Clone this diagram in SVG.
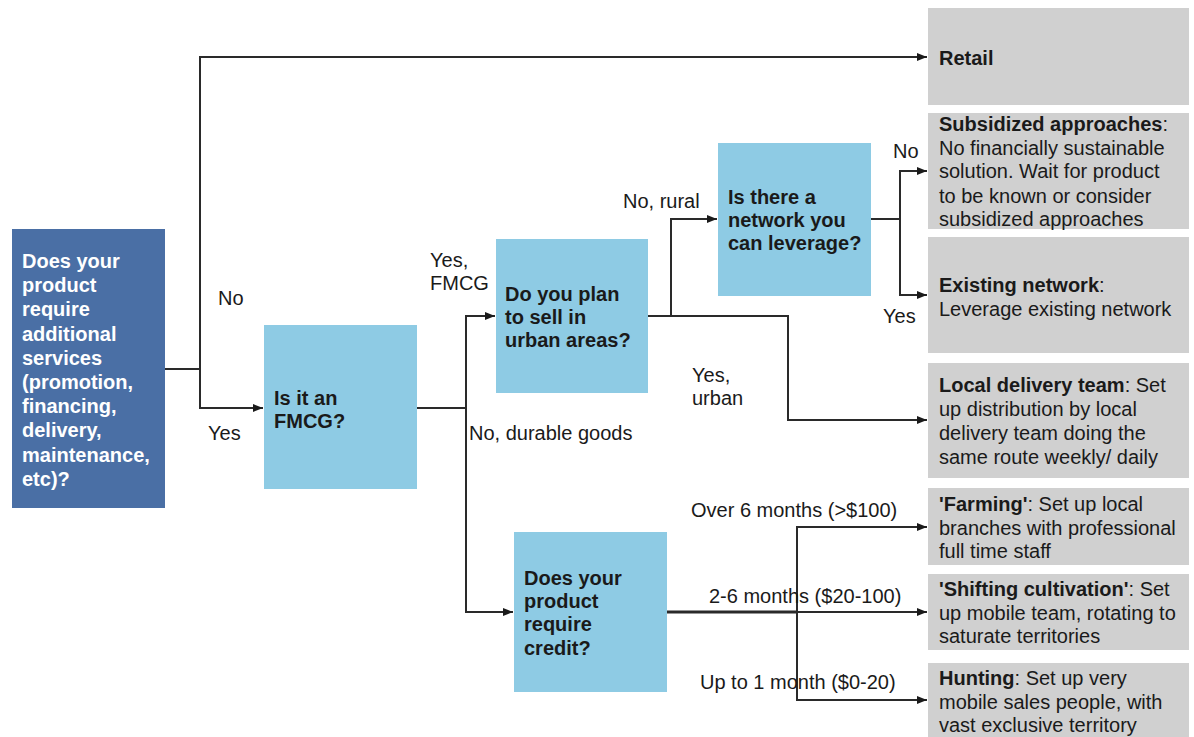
<svg xmlns="http://www.w3.org/2000/svg" width="1194" height="737" viewBox="0 0 1194 737">
<style>
text{font-family:"Liberation Sans",Arial,sans-serif;font-size:20px;fill:#1a1a1a}
.b{font-weight:bold}
.w{fill:#ffffff;font-weight:bold}
.main{fill:#4a6fa5}
.q{fill:#8ecbe4}
.o{fill:#d0d0d0}
.c{fill:none;stroke:#2a2a2a;stroke-width:2}
</style>
<defs>
<marker id="ah" viewBox="0 0 10 10" refX="10" refY="5" markerWidth="10" markerHeight="10" markerUnits="userSpaceOnUse" orient="auto">
<path d="M0,1 L10,5 L0,9 Z" fill="#1a1a1a"/>
</marker>
</defs>
<g id="connectors">
<path class="c" d="M165,369 H200"/>
<path class="c" d="M200,408 V57 H927" marker-end="url(#ah)"/>
<path class="c" d="M200,369 V408 H263" marker-end="url(#ah)"/>
<path class="c" d="M417,408 H466"/>
<path class="c" d="M466,408 V316 H495" marker-end="url(#ah)"/>
<path class="c" d="M466,408 V612 H513" marker-end="url(#ah)"/>
<path class="c" d="M648,316 H788 V420 H927" marker-end="url(#ah)"/>
<path class="c" d="M671,316 V219 H717" marker-end="url(#ah)"/>
<path class="c" d="M871,219 H900"/>
<path class="c" d="M900,219 V171 H927" marker-end="url(#ah)"/>
<path class="c" d="M900,219 V295 H927" marker-end="url(#ah)"/>
<path class="c" d="M667,612 H797" style="stroke-width:3"/>
<path class="c" d="M797,612 H927" marker-end="url(#ah)"/>
<path class="c" d="M797,612 V527 H927" marker-end="url(#ah)"/>
<path class="c" d="M797,612 V700 H927" marker-end="url(#ah)"/>
<text x="218" y="305">No</text>
<text x="208" y="440">Yes</text>
<text x="430" y="267">Yes,</text>
<text x="430" y="290">FMCG</text>
<text x="623" y="208">No, rural</text>
<text x="692" y="382">Yes,</text>
<text x="692" y="405">urban</text>
<text x="469" y="440">No, durable goods</text>
<text x="893" y="158">No</text>
<text x="883" y="323">Yes</text>
<text x="691" y="517">Over 6 months (&gt;$100)</text>
<text x="709" y="603">2-6 months ($20-100)</text>
<text x="700" y="689">Up to 1 month ($0-20)</text>
</g>
<g id="q-services">
<rect class="main" x="12" y="229" width="153" height="279"/>
<text class="w" x="22" y="268">Does your</text>
<text class="w" x="22" y="292">product</text>
<text class="w" x="22" y="316">require</text>
<text class="w" x="22" y="341">additional</text>
<text class="w" x="22" y="365">services</text>
<text class="w" x="22" y="389">(promotion,</text>
<text class="w" x="22" y="413">financing,</text>
<text class="w" x="22" y="437">delivery,</text>
<text class="w" x="22" y="462">maintenance,</text>
<text class="w" x="22" y="486">etc)?</text>
</g>
<g id="q-fmcg">
<rect class="q" x="264" y="325" width="153" height="164"/>
<text class="b" x="274" y="405">Is it an</text>
<text class="b" x="274" y="428">FMCG?</text>
</g>
<g id="q-urban">
<rect class="q" x="496" y="239" width="152" height="154"/>
<text class="b" x="505" y="301">Do you plan</text>
<text class="b" x="505" y="324">to sell in</text>
<text class="b" x="505" y="347">urban areas?</text>
</g>
<g id="q-network">
<rect class="q" x="718" y="143" width="153" height="153"/>
<text class="b" x="728" y="204">Is there a</text>
<text class="b" x="728" y="227">network you</text>
<text class="b" x="728" y="250">can leverage?</text>
</g>
<g id="q-credit">
<rect class="q" x="514" y="532" width="153" height="160"/>
<text class="b" x="524" y="585">Does your</text>
<text class="b" x="524" y="608">product</text>
<text class="b" x="524" y="631">require</text>
<text class="b" x="524" y="655">credit?</text>
</g>
<g id="o-retail">
<rect class="o" x="928" y="8" width="261" height="97"/>
<text class="b" x="939" y="65">Retail</text>
</g>
<g id="o-subsidized">
<rect class="o" x="928" y="113" width="261" height="116"/>
<text x="939" y="131"><tspan class="b">Subsidized approaches</tspan>:</text>
<text x="939" y="155">No financially sustainable</text>
<text x="939" y="178">solution. Wait for product</text>
<text x="939" y="203">to be known or consider</text>
<text x="939" y="226">subsidized approaches</text>
</g>
<g id="o-existing">
<rect class="o" x="928" y="237" width="261" height="116"/>
<text x="939" y="292"><tspan class="b">Existing network</tspan>:</text>
<text x="939" y="316">Leverage existing network</text>
</g>
<g id="o-local">
<rect class="o" x="928" y="363" width="261" height="115"/>
<text x="939" y="392"><tspan class="b">Local delivery team</tspan>: Set</text>
<text x="939" y="416">up distribution by local</text>
<text x="939" y="440">delivery team doing the</text>
<text x="939" y="464">same route weekly/ daily</text>
</g>
<g id="o-farming">
<rect class="o" x="928" y="488" width="261" height="77"/>
<text x="939" y="511"><tspan class="b">'Farming'</tspan>: Set up local</text>
<text x="939" y="535">branches with professional</text>
<text x="939" y="558">full time staff</text>
</g>
<g id="o-shifting">
<rect class="o" x="928" y="574" width="261" height="76"/>
<text x="939" y="596"><tspan class="b">'Shifting cultivation'</tspan>: Set</text>
<text x="939" y="620">up mobile team, rotating to</text>
<text x="939" y="643">saturate territories</text>
</g>
<g id="o-hunting">
<rect class="o" x="928" y="663" width="261" height="80"/>
<text x="939" y="685"><tspan class="b">Hunting</tspan>: Set up very</text>
<text x="939" y="709">mobile sales people, with</text>
<text x="939" y="732">vast exclusive territory</text>
</g>
</svg>
